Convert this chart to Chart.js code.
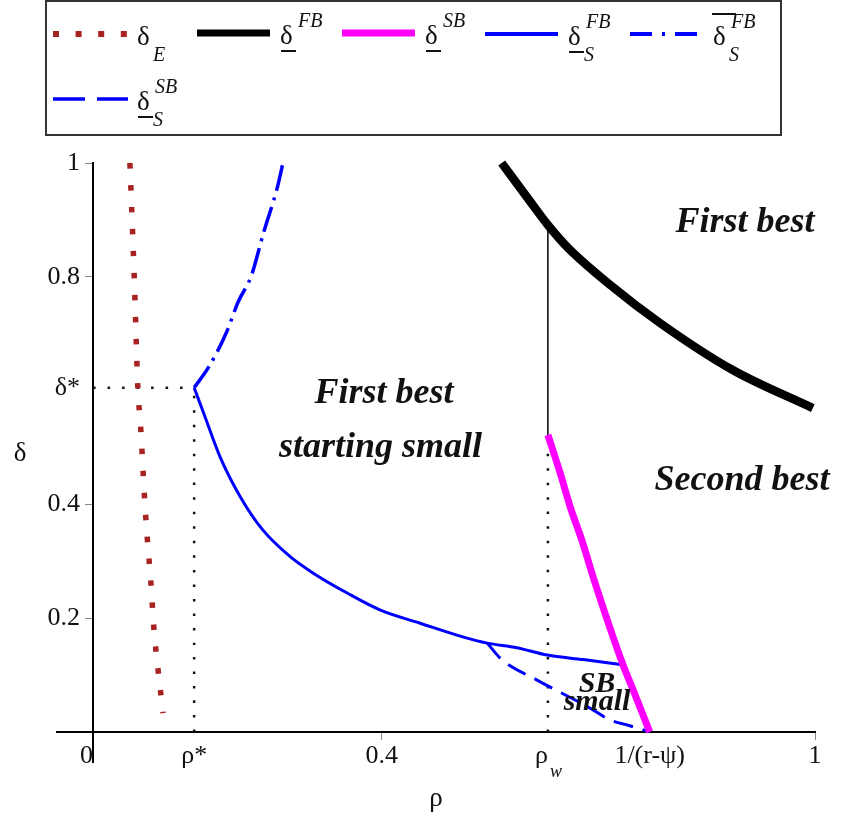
<!DOCTYPE html>
<html>
<head>
<meta charset="utf-8">
<script src="https://cdn.jsdelivr.net/npm/chart.js@4.4.1/dist/chart.umd.min.js"></script>
<style>
  html, body { margin: 0; padding: 0; background: #fff; }
  #wrap { position: relative; width: 843px; height: 818px; }
  #wrap canvas { position: absolute; left: 0; top: 0; }
  #legend { position: absolute; left: 45px; top: 0; width: 737px; height: 136px;
            border: 2px solid #333; box-sizing: border-box; }
  .lg { position: absolute; left: 0; top: 0; width: 843px; height: 136px; }
  .lg svg { position: absolute; }
  .sym { position: absolute; width: 0; height: 0; }
  .sym span { position: absolute; white-space: nowrap; font-family: "Liberation Serif", serif; color: #111; }
  .sym .base { font-size: 27px; line-height: 27px; left: 0; top: -11px; }
  .sym .under { left: 1px; top: 17px; width: 15px; height: 2px; background: #111; }
  .sym .over { left: -1px; top: -21px; width: 24px; height: 2px; background: #111; }
  .sym .sup { font-style: italic; font-size: 20px; line-height: 20px; left: 18px; top: -23px; }
  .sym .sub { font-style: italic; font-size: 20px; line-height: 20px; left: 16px; top: 10px; }
</style>
</head>
<body>
<div id="wrap">
  <canvas id="chart" width="843" height="818"></canvas>
  <div id="legend"></div>
  <div class="lg" id="legend-items"></div>
</div>
<script>
// ---- values ----
const rhoStar = 0.14, deltaStar = 0.605;
const rhoW = 0.63, rhoBar = 0.771;
const deltaFBatW = 0.891, deltaSBatW = 0.522;

const deltaE_rho = [0.051, 0.057, 0.062, 0.066, 0.071, 0.075, 0.080, 0.084, 0.090, 0.097];
const deltaE_val = [1.0, 0.8, 0.605, 0.533, 0.417, 0.341, 0.264, 0.185, 0.109, 0.033];

const deltaFB_rho = [0.566, 0.601, 0.630, 0.657, 0.716, 0.785, 0.886, 0.997];
const deltaFB_val = [1.0, 0.940, 0.891, 0.852, 0.786, 0.719, 0.636, 0.569];

const deltaSB_rho = [0.630, 0.647, 0.661, 0.677, 0.694, 0.734, 0.748, 0.771];
const deltaSB_val = [0.522, 0.455, 0.395, 0.337, 0.267, 0.118, 0.074, 0];

const deltaSFB_rho = [0.14, 0.155, 0.176, 0.204, 0.235, 0.273, 0.305, 0.352, 0.398, 0.453, 0.512, 0.546, 0.587, 0.629, 0.679, 0.733];
const deltaSFB_val = [0.605, 0.554, 0.483, 0.413, 0.355, 0.308, 0.279, 0.244, 0.214, 0.191, 0.167, 0.156, 0.148, 0.135, 0.127, 0.118];

const deltaSFBbar_rho = [0.14, 0.16, 0.185, 0.201, 0.219, 0.236, 0.255, 0.263];
const deltaSFBbar_val = [0.605, 0.641, 0.703, 0.756, 0.801, 0.877, 0.956, 1.0];

const deltaSSB_rho = [0.546, 0.566, 0.615, 0.688, 0.716, 0.740, 0.771];
const deltaSSB_val = [0.156, 0.127, 0.091, 0.042, 0.021, 0.012, 0];

const xTickVals = [0, rhoStar, 0.4, rhoW, rhoBar, 1];
const xTickText = ['0\u2002', 'ρ*', '0.4', 'ρ\u2002', '1/(r-ψ)', '1'];
const yTickVals = [0.2, 0.4, deltaStar, 0.8, 1];
const yTickText = ['0.2', '0.4', 'δ*', '0.8', '1'];

// region captions, placed in data units (baseline)
const captions = [
  { text: 'First best',     rho: 0.903, delta: 0.879, size: 36 },
  { text: 'First best',     rho: 0.403, delta: 0.578, size: 36 },
  { text: 'starting small', rho: 0.398, delta: 0.483, size: 36 },
  { text: 'Second best',    rho: 0.899, delta: 0.425, size: 36 },
  { text: 'SB',             rho: 0.698, delta: 0.070, size: 30 },
  { text: 'small',          rho: 0.698, delta: 0.039, size: 30 }
];

const pts = (xs, ys) => xs.map((x, i) => ({ x, y: ys[i] }));
const SERIF = '"Liberation Serif", serif';
const isNum = s => /^[0-9.]+$/.test(s);

const datasets = [
  { data: pts(deltaE_rho, deltaE_val), borderColor: '#a82222', borderWidth: 5.5, borderDash: [5.5, 16.5],
    lg: { slot: 0, sub: 'E', w: 6, dash: '6 16.6' } },
  { data: pts(deltaFB_rho, deltaFB_val), borderColor: '#000', borderWidth: 8.5,
    lg: { slot: 1, sup: 'FB', mark: 'under', w: 7 } },
  { data: pts(deltaSB_rho, deltaSB_val), borderColor: '#ff00ff', borderWidth: 7,
    lg: { slot: 2, sup: 'SB', mark: 'under', w: 7 } },
  { data: pts(deltaSFB_rho, deltaSFB_val), borderColor: '#0000ff', borderWidth: 3,
    lg: { slot: 3, sup: 'FB', sub: 'S', mark: 'under', w: 4 } },
  { data: pts(deltaSFBbar_rho, deltaSFBbar_val), borderColor: '#0000ff', borderWidth: 3.5, borderDash: [26, 7, 3, 7],
    lg: { slot: 4, sup: 'FB', sub: 'S', mark: 'over', w: 4, dash: '22 10 3 10' } },
  { data: pts(deltaSSB_rho, deltaSSB_val), borderColor: '#0000ff', borderWidth: 3, borderDash: [20, 10],
    lg: { slot: 5, sup: 'SB', sub: 'S', mark: 'under', w: 3.5, dash: '32 12' } },
  // guides
  { data: [{ x: rhoW, y: deltaSBatW }, { x: rhoW, y: deltaFBatW }], borderColor: '#000', borderWidth: 1.5, tension: 0 },
  { data: [{ x: 0, y: deltaStar }, { x: rhoStar, y: deltaStar }], borderColor: '#111', borderWidth: 2.5, borderDash: [2.5, 12], tension: 0 },
  { data: [{ x: rhoStar, y: 0 }, { x: rhoStar, y: deltaStar }], borderColor: '#111', borderWidth: 2.5, borderDash: [2.5, 12], tension: 0 },
  { data: [{ x: rhoW, y: 0 }, { x: rhoW, y: deltaSBatW }], borderColor: '#111', borderWidth: 2.5, borderDash: [2.5, 12], tension: 0 }
];

// legend slot positions (page px): sample start, sample width, row line y, label x
const legendSlots = [
  { x: 53, w: 75, y: 34, lx: 137 },
  { x: 197, w: 73, y: 33, lx: 280 },
  { x: 342, w: 73, y: 33, lx: 425 },
  { x: 485, w: 73, y: 34, lx: 568 },
  { x: 630, w: 68, y: 34, lx: 713 },
  { x: 53, w: 75, y: 99, lx: 137 }
];

const overlay = {
  id: 'overlay',
  afterDraw(chart) {
    const { ctx, scales: { x, y }, chartArea } = chart;
    ctx.save();
    ctx.fillStyle = '#111';
    ctx.textAlign = 'center';
    ctx.textBaseline = 'alphabetic';
    captions.forEach(c => {
      ctx.font = `bold italic ${c.size}px ${SERIF}`;
      ctx.fillText(c.text, x.getPixelForValue(c.rho), y.getPixelForValue(c.delta));
    });
    // y-axis title, upright
    ctx.font = `27px ${SERIF}`;
    ctx.fillText('δ', chartArea.left - 37, (y.top + y.bottom) / 2 - 2);
    // subscript w of the rho_w tick
    ctx.textAlign = 'left';
    ctx.font = `italic 18px ${SERIF}`;
    ctx.fillText('w', x.getPixelForValue(rhoW) + 2, y.getPixelForValue(0) + 45);
    ctx.restore();
  }
};

const chart = new Chart(document.getElementById('chart'), {
  type: 'line',
  data: {
    datasets: datasets.map(d => Object.assign({
      pointRadius: 0, fill: false, borderCapStyle: 'butt', cubicInterpolationMode: 'monotone', clip: false
    }, d))
  },
  options: {
    responsive: false,
    animation: false,
    layout: { padding: { left: 57, right: 28, top: 163, bottom: 56 } },
    plugins: { legend: { display: false }, tooltip: { enabled: false } },
    scales: {
      x: {
        type: 'linear', min: -0.05, max: 1, position: { y: 0 },
        afterBuildTicks: s => { s.ticks = xTickVals.map(v => ({ value: v })); },
        ticks: { callback: (v, i) => xTickText[i], autoSkip: false, maxRotation: 0, padding: 2,
                 font: { family: SERIF, size: 26 }, color: '#111' },
        grid: { drawOnChartArea: false, drawTicks: true, tickLength: 7, tickWidth: 1,
                tickColor: c => (isNum(xTickText[c.index] || '') ? '#888' : 'rgba(0,0,0,0)') },
        border: { display: true, color: '#000', width: 2 },
        title: { display: true, text: 'ρ', font: { family: SERIF, size: 27 }, color: '#111', padding: { top: 9, bottom: 4 } }
      },
      y: {
        type: 'linear', min: -0.053, max: 1, position: { x: 0 },
        afterBuildTicks: s => { s.ticks = yTickVals.map(v => ({ value: v })); },
        // axis sits inside the plot, so keep labels clear of it with a trailing space
        ticks: { callback: (v, i) => yTickText[i] + '\u2002', autoSkip: false,
                 font: { family: SERIF, size: 26 }, color: '#111' },
        grid: { drawOnChartArea: false, drawTicks: true, tickLength: 7, tickWidth: 1,
                tickColor: c => (isNum(yTickText[c.index] || '') ? '#888' : 'rgba(0,0,0,0)') },
        border: { display: true, color: '#000', width: 2 }
      }
    }
  },
  plugins: [overlay]
});

// ---- HTML legend (sub/superscripts) ----
(function () {
  const host = document.getElementById('legend-items');
  let html = '';
  chart.data.datasets.forEach(ds => {
    const lg = ds.lg;
    if (!lg) return;
    const s = legendSlots[lg.slot];
    html += `<svg style="left:${s.x}px;top:${s.y - 8}px" width="${s.w}" height="16">` +
      `<line x1="0" y1="8" x2="${s.w}" y2="8" stroke="${ds.borderColor}" stroke-width="${lg.w}"` +
      (lg.dash ? ` stroke-dasharray="${lg.dash}"` : '') + `/></svg>`;
    html += `<div class="sym" style="left:${s.lx}px;top:${s.y}px"><span class="base">δ</span>` +
      (lg.mark === 'under' ? '<span class="under"></span>' : '') +
      (lg.mark === 'over' ? '<span class="over"></span>' : '') +
      (lg.sup ? `<span class="sup">${lg.sup}</span>` : '') +
      (lg.sub ? `<span class="sub">${lg.sub}</span>` : '') + '</div>';
  });
  host.innerHTML = html;
})();
</script>
</body>
</html>
